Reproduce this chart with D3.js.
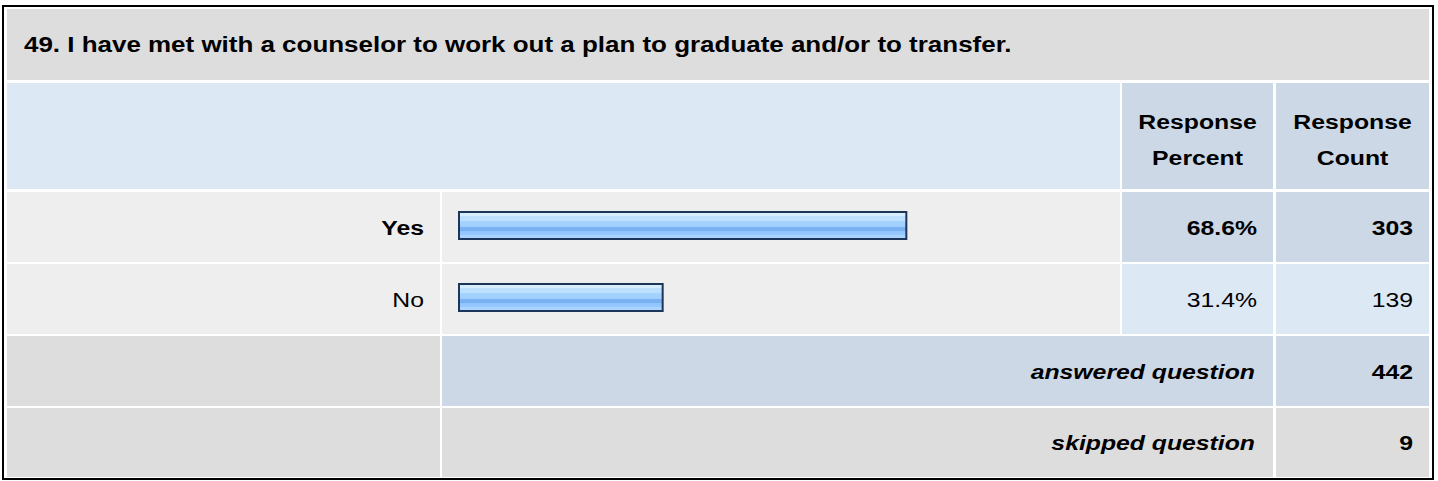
<!DOCTYPE html>
<html><head><meta charset="utf-8">
<script src="https://cdn.jsdelivr.net/npm/d3@7"></script>
<style>html,body{margin:0;padding:0;background:#fff;}svg{display:block;}</style>
</head><body>
<svg id="c" width="1438" height="481"></svg>
<script>
const title = "49. I have met with a counselor to work out a plan to graduate and/or to transfer.";
const headers = [["Response","Percent"],["Response","Count"]];
const categories = ["Yes","No"];
const percents = [68.6, 31.4];
const counts = [303, 139];
const summaryLabels = ["answered question","skipped question"];
const summaryValues = [442, 9];

const FONT = "'Liberation Sans', Arial, Helvetica, sans-serif";
const FS = 21;
const SX = 1.18;
const svg = d3.select("#c");

const rows = [
  {y0:9, y1:80}, {y0:83, y1:189}, {y0:192, y1:262}, {y0:264, y1:334}, {y0:336, y1:406}, {y0:408, y1:477}
];
const cols = [{x0:7,x1:440},{x0:442,x1:1120},{x0:1122,x1:1273},{x0:1276,x1:1429}];

// outer border
svg.append("rect").attr("x",3).attr("y",6).attr("width",1430).attr("height",473)
  .attr("fill","none").attr("stroke","#000").attr("stroke-width",2);

function cell(x0,x1,r,fill){
  svg.append("rect").attr("x",x0).attr("y",r.y0).attr("width",x1-x0).attr("height",r.y1-r.y0).attr("fill",fill);
}
function txt(x, y, s, anchor, weight, style, fs){
  const g = svg.append("g").attr("transform",`translate(${x},${y}) scale(${SX},1)`);
  g.append("text").attr("x",0).attr("y",0).attr("text-anchor",anchor)
   .attr("font-family",FONT).attr("font-size",fs||FS).attr("font-weight",weight||"normal")
   .attr("font-style",style||"normal").attr("fill","#000").text(s);
}
const base = r => (r.y0 + r.y1)/2 + FS*0.36;

// title row
cell(7,1429,rows[0],"#dddddd");
txt(24, base(rows[0]), title, "start", "bold", "normal", 22);

// header row
cell(7,1120,rows[1],"#dde8f5");
cell(cols[2].x0,cols[2].x1,rows[1],"#ccd8e6");
cell(cols[3].x0,cols[3].x1,rows[1],"#ccd8e6");
headers.forEach((h,i)=>{
  const c = cols[2+i], cx = (c.x0+c.x1)/2;
  txt(cx, 129, h[0], "middle", "bold");
  txt(cx, 165, h[1], "middle", "bold");
});

// bar gradient
const defs = svg.append("defs");
const grad = defs.append("linearGradient").attr("id","barg").attr("x1",0).attr("y1",0).attr("x2",0).attr("y2",1);
[[0,"#d6edff"],[0.14,"#d6edff"],[0.14,"#bde0ff"],[0.32,"#bde0ff"],[0.32,"#a6d3ff"],[0.55,"#a0cffd"],
 [0.55,"#7cb4f2"],[0.72,"#76aef0"],[0.72,"#90c4fc"],[0.86,"#98c9ff"],[0.86,"#a8d4ff"],[1,"#a8d4ff"]]
 .forEach(([o,c])=>grad.append("stop").attr("offset",o).attr("stop-color",c));

const x = d3.scaleLinear().domain([0,100]).range([458, 458+655]);

categories.forEach((cat,i)=>{
  const r = rows[2+i];
  const strong = i===0;
  cell(cols[0].x0,cols[0].x1,r,"#eeeeee");
  cell(cols[1].x0,cols[1].x1,r,"#eeeeee");
  cell(cols[2].x0,cols[2].x1,r,strong?"#ccd8e6":"#dde8f5");
  cell(cols[3].x0,cols[3].x1,r,strong?"#ccd8e6":"#dde8f5");
  txt(cols[0].x1-16, base(r), cat, "end", strong?"bold":"normal");
  svg.append("rect").attr("x",x(0)+1).attr("y",r.y0+20).attr("width",x(percents[i])-x(0)-2).attr("height",27)
    .attr("fill","url(#barg)").attr("stroke","#1d3658").attr("stroke-width",2);
  txt(cols[2].x1-16, base(r), d3.format(".1f")(percents[i])+"%", "end", strong?"bold":"normal");
  txt(cols[3].x1-16, base(r), String(counts[i]), "end", strong?"bold":"normal");
});

summaryLabels.forEach((lab,i)=>{
  const r = rows[4+i];
  const f = i===0?"#ccd8e6":"#dddddd";
  cell(cols[0].x0,cols[0].x1,r,"#dddddd");
  cell(cols[1].x0,cols[2].x1,r,f);
  cell(cols[3].x0,cols[3].x1,r,f);
  txt(cols[2].x1-18, base(r), lab, "end", "bold", "italic");
  txt(cols[3].x1-16, base(r), String(summaryValues[i]), "end", "bold");
});
</script>
</body></html>
